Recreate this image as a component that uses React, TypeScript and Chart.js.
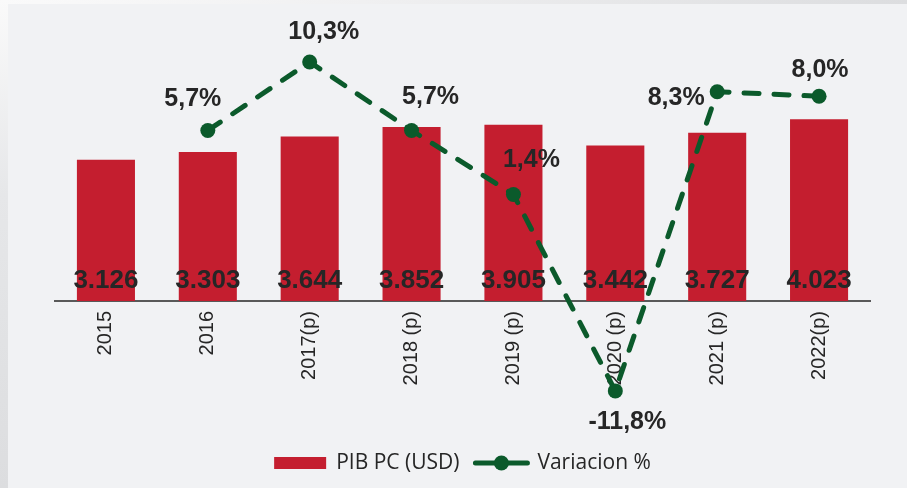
import React, { useEffect, useRef } from 'react';
import { Chart, registerables } from 'chart.js';

Chart.register(...registerables);

const categories = ['2015', '2016', '2017(p)', '2018 (p)', '2019 (p)', '2020 (p)', '2021 (p)', '2022(p)'];
const pibPc = [3126, 3303, 3644, 3852, 3905, 3442, 3727, 4023];
const variacion: (number | null)[] = [null, 5.7, 10.3, 5.7, 1.4, -11.8, 8.3, 8.0];
const seriesNames = ['PIB PC (USD)', 'Variacion %'];

const RED = '#C41E2F';
const GREEN = '#0B5A2B';
const TEXT = '#262626';

// label offsets (px) of the percentage labels relative to their points
const pctOffsets = [[0, 0], [-15, -33], [14, -32], [19, -35], [18, -36], [12, 29], [-41, 4], [1, -28]];

const fmtThousands = (v: number) => String(v).replace(/\B(?=(\d{3})+(?!\d))/g, '.');
const fmtPct = (v: number) => v.toFixed(1).replace('.', ',') + '%';

const barLabels = {
  id: 'barLabels',
  afterDatasetDraw(chart: any, args: any) {
    const ctx = chart.ctx;
    if (args.index === 1) {
      // points lying outside the chart area (e.g. below the x axis) are skipped by Chart.js; draw them here
      const meta1 = chart.getDatasetMeta(1);
      const ca = chart.chartArea;
      const full = { left: 0, top: 0, right: chart.width, bottom: chart.height };
      meta1.data.forEach((el: any) => {
        if (el.skip) return;
        if (el.y > ca.bottom || el.y < ca.top) el.draw(ctx, full);
      });
      return;
    }
    if (args.index !== 0) return;
    const meta = chart.getDatasetMeta(0);
    const base = chart.scales.y.getPixelForValue(0);
    ctx.save();
    ctx.font = 'bold 26px "Liberation Sans", Arial, sans-serif';
    ctx.fillStyle = TEXT;
    ctx.textAlign = 'center';
    ctx.textBaseline = 'alphabetic';
    meta.data.forEach((el: any, i: number) => {
      ctx.fillText(fmtThousands(pibPc[i]), el.x, base - 13);
    });
    ctx.restore();
  },
};

const pctLabels = {
  id: 'pctLabels',
  afterDraw(chart: any) {
    const ctx = chart.ctx;
    const meta = chart.getDatasetMeta(1);
    ctx.save();
    ctx.font = 'bold 25px "Liberation Sans", Arial, sans-serif';
    ctx.fillStyle = TEXT;
    ctx.textAlign = 'center';
    ctx.textBaseline = 'alphabetic';
    meta.data.forEach((el: any, i: number) => {
      const v = variacion[i];
      if (v === null || v === undefined) return;
      const [dx, dy] = pctOffsets[i];
      ctx.fillText(fmtPct(v), el.x + dx, el.y + dy + 9);
    });
    ctx.restore();
  },
};

const customLegend = {
  id: 'customLegend',
  afterDraw(chart: any) {
    const ctx = chart.ctx;
    const ca = chart.chartArea;
    ctx.save();
    ctx.font = '21px "Open Sans", sans-serif';
    const w1 = ctx.measureText(seriesNames[0]).width;
    const w2 = ctx.measureText(seriesNames[1]).width;
    const boxW = 52, boxH = 12, lineW = 56;
    const total = boxW + 10 + w1 + 14 + lineW + 8 + w2;
    let x = (ca.left + ca.right) / 2 - total / 2;
    const y = 463;
    ctx.fillStyle = RED;
    ctx.fillRect(x, y - boxH / 2, boxW, boxH);
    x += boxW + 10;
    ctx.fillStyle = TEXT;
    ctx.textBaseline = 'middle';
    ctx.textAlign = 'left';
    ctx.fillText(seriesNames[0], x, y);
    x += w1 + 14;
    ctx.strokeStyle = GREEN;
    ctx.lineWidth = 5;
    ctx.lineCap = 'round';
    ctx.beginPath();
    ctx.moveTo(x + 2, y);
    ctx.lineTo(x + lineW - 2, y);
    ctx.stroke();
    ctx.fillStyle = GREEN;
    ctx.beginPath();
    ctx.arc(x + lineW / 2, y, 7.5, 0, Math.PI * 2);
    ctx.fill();
    x += lineW + 8;
    ctx.fillStyle = TEXT;
    ctx.fillText(seriesNames[1], x, y);
    ctx.restore();
  },
};

export default function App() {
  const ref = useRef<HTMLCanvasElement | null>(null);

  useEffect(() => {
    document.body.style.margin = '0';
    const canvas = ref.current;
    if (!canvas) return;
    const chart = new Chart(canvas, {
      type: 'bar',
      data: {
        labels: categories,
        datasets: [
          {
            type: 'bar',
            label: seriesNames[0],
            data: pibPc,
            backgroundColor: RED,
            borderWidth: 0,
            barPercentage: 0.57,
            categoryPercentage: 1,
            yAxisID: 'y',
            order: 1,
          },
          {
            type: 'line',
            label: seriesNames[1],
            data: variacion,
            borderColor: GREEN,
            backgroundColor: GREEN,
            borderWidth: 5,
            borderDash: [15, 15],
            borderCapStyle: 'round',
            tension: 0,
            pointRadius: 7.5,
            pointBorderWidth: 0,
            pointBackgroundColor: GREEN,
            clip: false,
            yAxisID: 'y2',
            order: 0,
          } as any,
        ],
      },
      options: {
        responsive: false,
        animation: false,
        layout: { padding: { left: 55, right: 37, top: 20, bottom: 0 } },
        plugins: {
          legend: { display: false },
          tooltip: { enabled: false },
        },
        scales: {
          x: {
            grid: { display: false, drawTicks: false },
            border: { display: true, color: '#595959', width: 2 },
            ticks: {
              autoSkip: false,
              minRotation: 90,
              maxRotation: 90,
              padding: 10,
              color: TEXT,
              font: { family: '"Liberation Sans", Arial, sans-serif', size: 20 },
            },
            afterFit: (s: any) => {
              s.height = 187;
            },
          },
          y: {
            display: false,
            min: 0,
            max: 6224,
          },
          y2: {
            display: false,
            min: -5.76,
            max: 13.12,
          },
        },
      },
      plugins: [barLabels, pctLabels, customLegend],
    });
    return () => chart.destroy();
  }, []);

  return (
    <div
      style={{
        position: 'fixed',
        left: 0,
        top: 0,
        width: 907,
        height: 488,
        background: '#F1F2F4',
        overflow: 'hidden',
      }}
    >
      <div
        style={{
          position: 'absolute',
          left: 0,
          top: 0,
          width: 907,
          height: 4,
          background: 'linear-gradient(to right, #fafafa, #f0f0f1 40%, #dcdddf)',
        }}
      />
      <div
        style={{
          position: 'absolute',
          left: 0,
          top: 0,
          width: 8,
          height: 488,
          background: 'linear-gradient(to bottom, #fafafa, #e6e7e9 40%, #dcdddf)',
        }}
      />
      <canvas ref={ref} width={907} height={488} style={{ position: 'absolute', left: 0, top: 0, width: 907, height: 488 }} />
    </div>
  );
}
